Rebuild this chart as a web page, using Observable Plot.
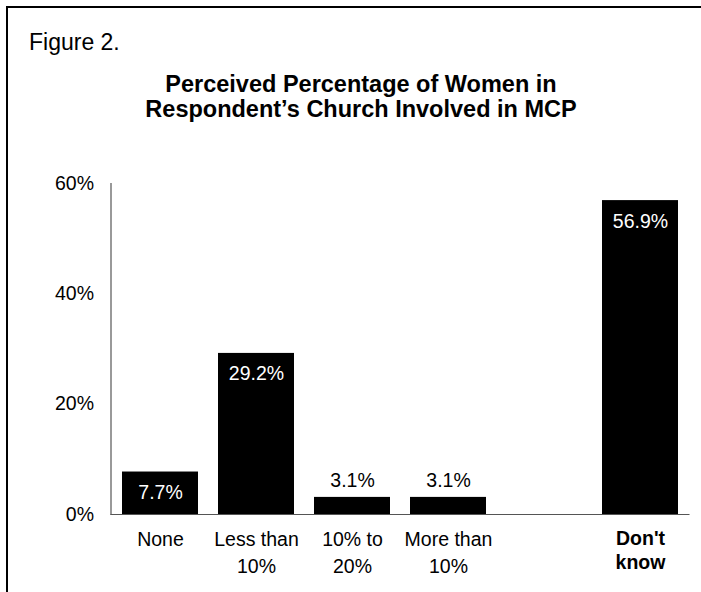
<!DOCTYPE html>
<html>
<head>
<meta charset="utf-8">
<script src="https://cdn.jsdelivr.net/npm/d3@7"></script>
<script src="https://cdn.jsdelivr.net/npm/@observablehq/plot@0.6"></script>
<style>
  html, body { margin: 0; padding: 0; background: #fff; }
  #wrap { position: relative; width: 701px; height: 592px; overflow: hidden;
          font-family: "Liberation Sans", Arial, Helvetica, sans-serif; color: #000; }
  #border { position: absolute; left: 6px; top: 6px; width: 900px; height: 900px;
            border: 2px solid #000; box-sizing: border-box; }
  #fig { position: absolute; left: 29px; top: 31px; font-size: 23px; line-height: 23px; white-space: nowrap; }
  #title { position: absolute; left: 0; top: 72px; width: 722px; text-align: center;
           font-size: 23.5px; line-height: 25.4px; font-weight: bold; }
  #chart { position: absolute; left: 0; top: 0; }
</style>
</head>
<body>
<div id="wrap">
  <div id="border"></div>
  <div id="fig">Figure 2.</div>
  <div id="title">Perceived Percentage of Women in<br>Respondent’s Church Involved in MCP</div>
  <div id="chart"></div>
</div>
<script>
// Answer categories (one empty slot separates "Don't know" from the rest)
const categories = ["None", "Less than 10%", "10% to 20%", "More than 10%", "", "Don't know"];
const tickLabels = ["None", "Less than\n10%", "10% to\n20%", "More than\n10%", "", "Don't\nknow"];
const boldLabels = [false, false, false, false, false, true];
const percents = [7.7, 29.2, 3.1, 3.1, null, 56.9];
const yTicks = [0, 20, 40, 60];

const rows = categories.map((c, i) => ({
  category: c, label: tickLabels[i], bold: boldLabels[i], value: percents[i]
}));
const bars = rows.filter(d => d.value != null);
const inside = bars.filter(d => d.value > 5);
const above = bars.filter(d => d.value <= 5);

const fmt = v => v.toFixed(1) + "%";

const chart = Plot.plot({
  width: 701,
  height: 592,
  marginTop: 183,
  marginBottom: 78,
  marginLeft: 110.5,
  marginRight: 11.5,
  style: { fontFamily: "'Liberation Sans', Arial, Helvetica, sans-serif", fontSize: "19.5px", color: "#000", background: "transparent" },
  x: { domain: categories, paddingInner: 0.212, paddingOuter: 0.106, axis: null },
  y: { domain: [0, 60], ticks: yTicks, tickFormat: d => d + "%", label: null },
  marks: [
    Plot.axisY({ ticks: yTicks, tickFormat: d => d + "%", tickSize: 0, tickPadding: 17, fontSize: 19.5, label: null }),
    Plot.barY(bars, { x: "category", y: "value", fill: "#000" }),
    Plot.frame({ anchor: "left", stroke: "#555", strokeWidth: 1.2 }),
    Plot.ruleY([0], { stroke: "#555", strokeWidth: 1.2 }),
    // values printed inside the tall bars
    Plot.text(inside, { x: "category", y: "value", text: d => fmt(d.value), fill: "#fff",
      lineAnchor: "bottom", dy: 27, fontSize: 19.5 }),
    // values printed above the short bars
    Plot.text(above, { x: "category", y: "value", text: d => fmt(d.value), fill: "#000",
      lineAnchor: "bottom", dy: -10, fontSize: 19.5 }),
    // category labels under the baseline
    Plot.text(rows.filter(d => !d.bold), { x: "category", y: 0, text: "label", fill: "#000",
      lineAnchor: "top", dy: 13, lineHeight: 1.37, fontSize: 19.5 }),
    Plot.text(rows.filter(d => d.bold), { x: "category", y: 0, text: "label", fill: "#000",
      lineAnchor: "top", dy: 13, lineHeight: 1.25, fontSize: 19.5, fontWeight: "bold" })
  ]
});
document.getElementById("chart").appendChild(chart);
</script>
</body>
</html>
